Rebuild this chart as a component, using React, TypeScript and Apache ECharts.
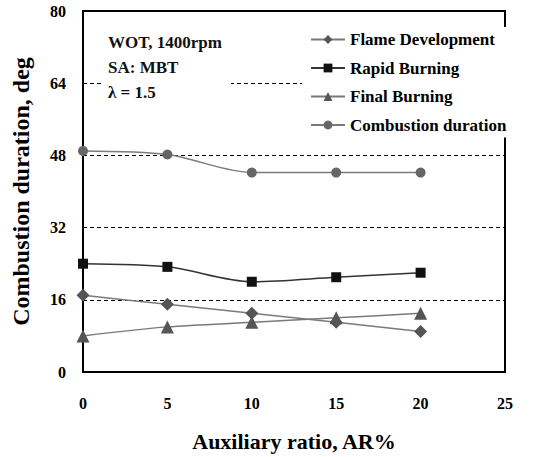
import React, { useEffect, useRef } from "react";
import * as echarts from "echarts";

const xValues = [0, 5, 10, 15, 20];
const flameDevelopment = [17, 15, 13, 11, 9];
const rapidBurning = [24, 23.3, 20, 21, 22];
const finalBurning = [8, 10, 11, 12, 13];
const combustionDuration = [49, 48.2, 44.2, 44.2, 44.2];
const yTicks = [0, 16, 32, 48, 64, 80];
const xTicks = [0, 5, 10, 15, 20, 25];
const annotations = ["WOT, 1400rpm", "SA: MBT", "λ = 1.5"];

const FONT = "serif";

function pairs(ys: number[]) {
  return xValues.map((x, i) => [x, ys[i]]);
}

export default function App() {
  const ref = useRef<HTMLDivElement>(null);
  useEffect(() => {
    if (!ref.current) return;
    const chart = echarts.init(ref.current, undefined, { renderer: "svg" });
    const lineStyle = { color: "#7a7a7a", width: 1.5 };
    chart.setOption({
      animation: false,
      backgroundColor: "#ffffff",
      textStyle: { fontFamily: FONT },
      grid: {
        left: 83,
        top: 11,
        right: 44,
        bottom: 85,
        show: true,
        borderColor: "#000",
        borderWidth: 2,
        backgroundColor: "transparent",
      },
      xAxis: {
        type: "value",
        min: xTicks[0],
        max: xTicks[xTicks.length - 1],
        interval: 5,
        name: "Auxiliary ratio, AR%",
        nameLocation: "middle",
        nameGap: 58,
        nameTextStyle: { fontFamily: FONT, fontWeight: "bold", fontSize: 22, color: "#000" },
        axisLine: { show: true, lineStyle: { color: "#000", width: 2 } },
        axisTick: { show: false },
        axisLabel: { fontFamily: FONT, fontWeight: "bold", fontSize: 16, color: "#000", margin: 23 },
        splitLine: { show: false },
      },
      yAxis: {
        type: "value",
        min: yTicks[0],
        max: yTicks[yTicks.length - 1],
        interval: 16,
        name: "Combustion duration, deg",
        nameLocation: "middle",
        nameGap: 50,
        nameTextStyle: { fontFamily: FONT, fontWeight: "bold", fontSize: 24, color: "#000" },
        axisLine: { show: true, lineStyle: { color: "#000", width: 2 } },
        axisTick: { show: false },
        axisLabel: { fontFamily: FONT, fontWeight: "bold", fontSize: 16, color: "#000", margin: 17 },
        splitLine: { show: true, lineStyle: { color: "#000", type: [4, 3], width: 1 } },
      },
      legend: {
        orient: "vertical",
        left: 302,
        top: 27,
        itemGap: 11.5,
        itemWidth: 34,
        itemHeight: 11,
        padding: [4, 4, 4, 8],
        backgroundColor: "#fff",
        textStyle: { fontFamily: FONT, fontWeight: "bold", fontSize: 17, color: "#000" },
        data: ["Flame Development", "Rapid Burning", "Final Burning", "Combustion duration"],
      },
      graphic: [
        { type: "rect", left: 103, top: 28, shape: { width: 128, height: 84 }, style: { fill: "#fff" }, z: 5 },
        ...annotations.map((t, i) => ({
          type: "text",
          left: 108,
          top: 34 + i * 25,
          z: 6,
          style: { text: t, fontFamily: FONT, fontWeight: "bold", fontSize: 17, fill: "#111" },
        })),
      ],
      series: [
        {
          name: "Flame Development",
          type: "line",
          data: pairs(flameDevelopment),
          symbol: "diamond",
          symbolSize: 13,
          smooth: 0.3,
          lineStyle,
          itemStyle: { color: "#555" },
        },
        {
          name: "Rapid Burning",
          type: "line",
          data: pairs(rapidBurning),
          symbol: "rect",
          symbolSize: 10,
          smooth: 0.3,
          lineStyle: { color: "#333", width: 1.5 },
          itemStyle: { color: "#111" },
        },
        {
          name: "Final Burning",
          type: "line",
          data: pairs(finalBurning),
          symbol: "triangle",
          symbolSize: 13,
          smooth: 0.3,
          lineStyle,
          itemStyle: { color: "#555" },
        },
        {
          name: "Combustion duration",
          type: "line",
          data: pairs(combustionDuration),
          symbol: "circle",
          symbolSize: 10,
          smooth: 0.3,
          lineStyle,
          itemStyle: { color: "#666" },
        },
      ],
    });
    return () => chart.dispose();
  }, []);
  return <div ref={ref} style={{ position: "absolute", left: 0, top: 0, width: 549, height: 457 }} />;
}
